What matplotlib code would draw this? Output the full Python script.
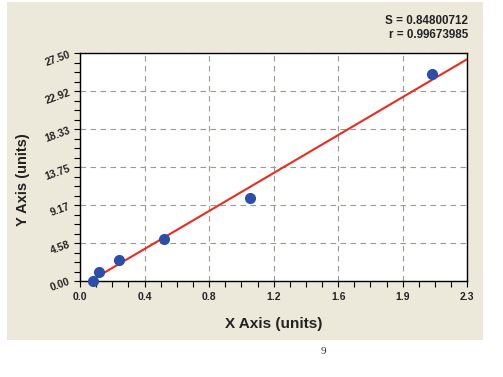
import numpy as np
import matplotlib
matplotlib.use("Agg")
import matplotlib.pyplot as plt
from matplotlib.patches import Rectangle
from matplotlib.ticker import AutoMinorLocator

plt.rcParams['font.family'] = ['Liberation Sans', 'DejaVu Sans']

# data
x_pts = [0.075, 0.111, 0.233, 0.499, 1.009, 2.088]
y_pts = [0.0, 1.12, 2.50, 5.04, 9.99, 25.0]
fit_x = [0.06, 2.3]
fit_y = [0.0, 26.8]

x_ticks = np.linspace(0, 2.3, 7)
x_labels = ['0.0', '0.4', '0.8', '1.2', '1.6', '1.9', '2.3']
y_ticks = np.linspace(0, 27.5, 7)
y_labels = ['0.00', '4.58', '9.17', '13.75', '18.33', '22.92', '27.50']

s_text = 'S = 0.84800712'
r_text = 'r = 0.99673985'

fig = plt.figure(figsize=(5.03, 3.77), dpi=100)
fig.patch.set_facecolor('white')
fig.patches.append(Rectangle((7/503, 37/377), 476/503, 338/377,
                             transform=fig.transFigure, facecolor='#ECE9DB',
                             edgecolor='none', zorder=-10))

ax = fig.add_axes([80/503, 96/377, 387.3/503, 227.7/377])
ax.set_facecolor('white')
ax.set_xlim(0, 2.3)
ax.set_ylim(0, 27.5)

ax.plot(fit_x, fit_y, color='#EE2A1E', lw=1.5, zorder=3)
ax.plot(x_pts, y_pts, 'o', color='#2B4FA8', markersize=7, zorder=4, clip_on=False)

ax.set_xticks(x_ticks)
ax.set_xticklabels(x_labels, fontsize=7.5, fontweight='bold', color='#222222')
ax.set_yticks(y_ticks)
ax.set_yticklabels(y_labels, fontsize=7.5, fontweight='bold', color='#222222',
                   rotation=20)
ax.xaxis.set_minor_locator(AutoMinorLocator(4))
ax.yaxis.set_minor_locator(AutoMinorLocator(4))
ax.tick_params(which='both', direction='out', length=4, width=0.8, color='black')
ax.tick_params(axis='x', pad=4)
ax.tick_params(axis='y', pad=2)

ax.grid(True, which='major', color='#9A9A90', linestyle=(0, (5, 4)), lw=0.8)
for sp in ax.spines.values():
    sp.set_linewidth(1.0)

ax.set_xlabel('X Axis (units)', fontsize=11, fontweight='bold', color='#222222',
              labelpad=11)
fig.text(23/503, 1 - 180/377, 'Y Axis (units)', rotation=90, fontsize=10.5,
         fontweight='bold', color='#222222', ha='center', va='center')

fig.text(468/503, 1 - 21/377, s_text, fontsize=8.4, fontweight='bold',
         color='#222222', ha='right', va='center')
fig.text(468/503, 1 - 35/377, r_text, fontsize=8.4, fontweight='bold',
         color='#222222', ha='right', va='center')

fig.text(323/503, 1 - 352/377, '9', fontsize=8, family='Liberation Serif',
         ha='center', va='center', color='#333333')

fig.savefig('out.png', dpi=100)
